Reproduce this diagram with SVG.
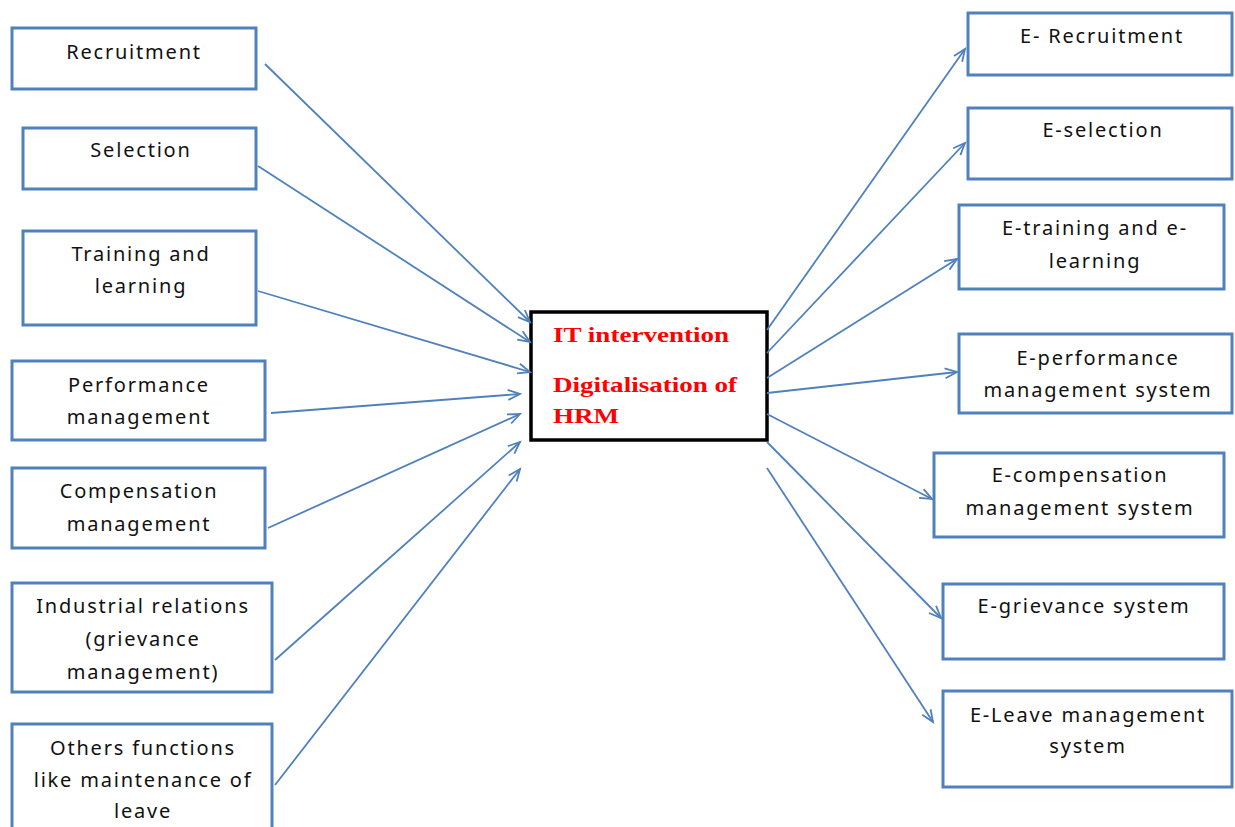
<svg xmlns="http://www.w3.org/2000/svg" width="1235" height="827" viewBox="0 0 1235 827">
<style>
.box{fill:#fff;stroke:#4F81BD;stroke-width:3}
.core{fill:#fff;stroke:#000;stroke-width:3.5}
.t{font-family:"Noto Sans","Open Sans",sans-serif;font-size:20px;fill:#111;text-anchor:middle;letter-spacing:1.8px}
.c{font-family:"Liberation Serif","Times New Roman",serif;font-size:22px;font-weight:bold;fill:#FF0000}
.conn line{stroke:#4F81BD;stroke-width:1.8;marker-end:url(#arr)}
</style>
<defs>
<marker id="arr" markerUnits="userSpaceOnUse" markerWidth="16" markerHeight="14" refX="13" refY="6" orient="auto">
<path d="M1,1 L13,6 L1,11" fill="none" stroke="#4F81BD" stroke-width="1.8"/>
</marker>
</defs>
<rect width="1235" height="827" fill="#fff"/>

<g id="n-recruitment"><rect class="box" x="12" y="28" width="244" height="61"/><text class="t" x="134" y="59">Recruitment</text></g>
<g id="n-selection"><rect class="box" x="23" y="128" width="233" height="61"/><text class="t" x="141" y="157">Selection</text></g>
<g id="n-training"><rect class="box" x="23" y="231" width="233" height="94"/><text class="t" x="141" y="261">Training and</text><text class="t" x="141" y="293">learning</text></g>
<g id="n-performance"><rect class="box" x="12" y="361" width="253" height="79"/><text class="t" x="139" y="392">Performance</text><text class="t" x="139" y="424">management</text></g>
<g id="n-compensation"><rect class="box" x="12" y="468" width="253" height="80"/><text class="t" x="139" y="498">Compensation</text><text class="t" x="139" y="531">management</text></g>
<g id="n-industrial"><rect class="box" x="12" y="583" width="260" height="109"/><text class="t" x="143" y="613">Industrial relations</text><text class="t" x="143" y="646">(grievance</text><text class="t" x="143" y="679">management)</text></g>
<g id="n-others"><rect class="box" x="12" y="724" width="260" height="112"/><text class="t" x="143" y="755">Others functions</text><text class="t" x="143" y="787">like maintenance of</text><text class="t" x="143" y="818">leave</text></g>

<g id="n-center"><rect class="core" x="531" y="312" width="236" height="128"/>
<g transform="translate(553,0) scale(1.23,1)">
<text class="c" x="0" y="342">IT intervention</text>
<text class="c" x="0" y="392">Digitalisation of</text>
<text class="c" x="0" y="423">HRM</text>
</g></g>

<g id="n-e-recruitment"><rect class="box" x="968" y="13" width="264" height="62"/><text class="t" x="1102" y="43">E- Recruitment</text></g>
<g id="n-e-selection"><rect class="box" x="968" y="108" width="264" height="71"/><text class="t" x="1103" y="137">E-selection</text></g>
<g id="n-e-training"><rect class="box" x="959" y="205" width="265" height="84"/><text class="t" x="1095" y="235">E-training and e-</text><text class="t" x="1095" y="268">learning</text></g>
<g id="n-e-performance"><rect class="box" x="959" y="334" width="273" height="79"/><text class="t" x="1098" y="365">E-performance</text><text class="t" x="1098" y="397">management system</text></g>
<g id="n-e-compensation"><rect class="box" x="934" y="453" width="290" height="84"/><text class="t" x="1080" y="482">E-compensation</text><text class="t" x="1080" y="515">management system</text></g>
<g id="n-e-grievance"><rect class="box" x="943" y="584" width="281" height="75"/><text class="t" x="1084" y="613">E-grievance system</text></g>
<g id="n-e-leave"><rect class="box" x="943" y="691" width="289" height="96"/><text class="t" x="1088" y="722">E-Leave management</text><text class="t" x="1088" y="753">system</text></g>

<g id="connectors" class="conn">
<line x1="265" y1="64" x2="530" y2="322"/>
<line x1="258" y1="166" x2="530" y2="342"/>
<line x1="258" y1="291" x2="530" y2="372"/>
<line x1="271" y1="413" x2="520" y2="394"/>
<line x1="268" y1="528" x2="520" y2="414"/>
<line x1="275" y1="660" x2="520" y2="442"/>
<line x1="275" y1="785" x2="520" y2="469"/>
<line x1="767" y1="330" x2="965" y2="49"/>
<line x1="767" y1="353" x2="965" y2="143"/>
<line x1="767" y1="378" x2="957" y2="259"/>
<line x1="767" y1="393" x2="957" y2="372"/>
<line x1="767" y1="414" x2="932" y2="499"/>
<line x1="767" y1="442" x2="941" y2="618"/>
<line x1="767" y1="468" x2="933" y2="722"/>
</g>
</svg>
